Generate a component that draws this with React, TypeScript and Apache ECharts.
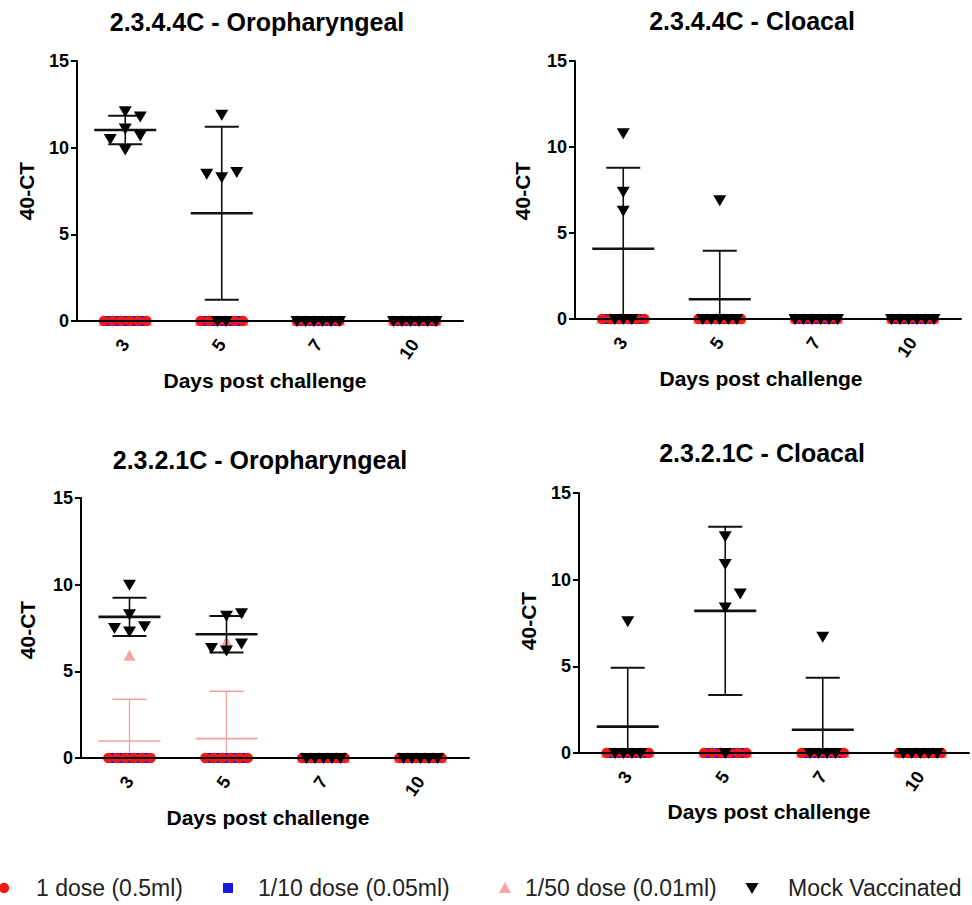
import React, { useEffect, useRef } from "react";
import * as echarts from "echarts";

// Sampling days (x categories) and y scale
const days = ["3", "5", "7", "10"];
const yMin = 0;
const yMax = 15;
const yStep = 5;

const groupNames = [
  "1 dose (0.5ml)",
  "1/10 dose (0.05ml)",
  "1/50 dose (0.01ml)",
  "Mock Vaccinated",
];

// 40-CT per bird; one row per sampling day (3, 5, 7, 10)
// 2.3.4.4C – oropharyngeal swabs
const h5OroDose1 = [
  [0, 0, 0, 0, 0, 0],
  [0, 0, 0, 0, 0, 0],
  [0, 0, 0, 0, 0, 0],
  [0, 0, 0, 0, 0, 0],
];
const h5OroDose10 = [
  [0, 0, 0, 0, 0],
  [0, 0, 0, 0, 0],
  [0, 0, 0, 0, 0],
  [0, 0, 0, 0, 0],
];
const h5OroDose50 = [
  [0, 0, 0, 0, 0, 0],
  [0, 0, 0, 0, 0, 0],
  [0, 0, 0, 0, 0, 0],
  [0, 0, 0, 0, 0, 0],
];
const h5OroMock = [
  [12.1, 11.8, 11.1, 10.7, 10.5, 9.9],
  [11.9, 8.3, 8.6, 8.5, 0, 0],
  [0, 0, 0, 0, 0, 0],
  [0, 0, 0, 0, 0, 0],
];

// 2.3.4.4C – cloacal swabs
const h5CloDose1 = [
  [0, 0, 0, 0, 0, 0],
  [0, 0, 0, 0, 0, 0],
  [0, 0, 0, 0, 0, 0],
  [0, 0, 0, 0, 0, 0],
];
const h5CloDose10 = [
  [0, 0, 0, 0, 0],
  [0, 0, 0, 0, 0],
  [0, 0, 0, 0, 0],
  [0, 0, 0, 0, 0],
];
const h5CloDose50 = [
  [0, 0, 0, 0, 0, 0],
  [0, 0, 0, 0, 0, 0],
  [0, 0, 0, 0, 0, 0],
  [0, 0, 0, 0, 0, 0],
];
const h5CloMock = [
  [10.8, 7.4, 6.3, 0, 0, 0],
  [6.9, 0, 0, 0, 0, 0],
  [0, 0, 0, 0, 0, 0],
  [0, 0, 0, 0, 0, 0],
];

// 2.3.2.1C – oropharyngeal swabs
const h5cOroDose1 = [
  [0, 0, 0, 0, 0, 0],
  [0, 0, 0, 0, 0, 0],
  [0, 0, 0, 0, 0, 0],
  [0, 0, 0, 0, 0, 0],
];
const h5cOroDose10 = [
  [0, 0, 0, 0, 0],
  [0, 0, 0, 0, 0],
  [0, 0, 0, 0, 0],
  [0, 0, 0, 0, 0],
];
const h5cOroDose50 = [
  [5.9, 0, 0, 0, 0, 0],
  [6.7, 0, 0, 0, 0, 0],
  [0, 0, 0, 0, 0, 0],
  [0, 0, 0, 0, 0, 0],
];
const h5cOroMock = [
  [10.0, 8.3, 7.3, 7.6, 7.5],
  [8.2, 8.35, 6.2, 6.6, 6.35],
  [0, 0, 0, 0, 0],
  [0, 0, 0, 0, 0],
];

// 2.3.2.1C – cloacal swabs
const h5cCloDose1 = [
  [0, 0, 0, 0, 0, 0],
  [0, 0, 0, 0, 0, 0],
  [0, 0, 0, 0, 0, 0],
  [0, 0, 0, 0, 0, 0],
];
const h5cCloDose10 = [
  [0, 0, 0, 0, 0],
  [0, 0, 0, 0, 0],
  [0, 0, 0, 0, 0],
  [0, 0, 0, 0, 0],
];
const h5cCloDose50 = [
  [0, 0, 0, 0, 0, 0],
  [0, 0, 0, 0, 0, 0],
  [0, 0, 0, 0, 0, 0],
  [0, 0, 0, 0, 0, 0],
];
const h5cCloMock = [
  [7.6, 0, 0, 0, 0],
  [12.5, 10.9, 8.4, 9.2, 0],
  [6.7, 0, 0, 0, 0],
  [0, 0, 0, 0, 0],
];

const FONT = '"Liberation Sans", Arial, Helvetica, sans-serif';

const groupStyles = [
  { color: "#ee1a1a", line: "#ee1a1a", shape: "circle" },
  { color: "#1818e0", line: "#1818e0", shape: "square" },
  { color: "#f4a5a5", line: "#f2a0a0", shape: "up" },
  { color: "#000000", line: "#111111", shape: "down" },
];
// pink underneath, then blue, red, and mock on top
const drawOrder = [2, 1, 0, 3];

const panels = [
  {
    title: "2.3.4.4C - Oropharyngeal",
    groups: [h5OroDose1, h5OroDose10, h5OroDose50, h5OroMock],
    grid: { left: 77, top: 61, width: 386, height: 260 },
    titleAt: [257, 22],
    yNameAt: [26, 191],
    xNameAt: [265, 380],
  },
  {
    title: "2.3.4.4C - Cloacal",
    groups: [h5CloDose1, h5CloDose10, h5CloDose50, h5CloMock],
    grid: { left: 575, top: 61, width: 386, height: 258 },
    titleAt: [752, 21],
    yNameAt: [522, 191],
    xNameAt: [761, 378],
  },
  {
    title: "2.3.2.1C - Oropharyngeal",
    groups: [h5cOroDose1, h5cOroDose10, h5cOroDose50, h5cOroMock],
    grid: { left: 81, top: 498, width: 388, height: 260 },
    titleAt: [260, 460],
    yNameAt: [27, 630],
    xNameAt: [268, 817],
  },
  {
    title: "2.3.2.1C - Cloacal",
    groups: [h5cCloDose1, h5cCloDose10, h5cCloDose50, h5cCloMock],
    grid: { left: 579, top: 493, width: 390, height: 260 },
    titleAt: [762, 453],
    yNameAt: [528, 621],
    xNameAt: [769, 811],
  },
];

function mean(v: number[]) {
  return v.reduce((a, b) => a + b, 0) / v.length;
}
function sd(v: number[]) {
  const m = mean(v);
  return Math.sqrt(v.reduce((a, b) => a + (b - m) * (b - m), 0) / (v.length - 1));
}

function marker(shape: string, cx: number, cy: number, color: string) {
  if (shape === "circle") {
    return { type: "circle", shape: { cx, cy, r: 5.2 }, style: { fill: color } };
  }
  if (shape === "square") {
    return { type: "rect", shape: { x: cx - 5, y: cy - 5, width: 10, height: 10 }, style: { fill: color } };
  }
  if (shape === "up") {
    return {
      type: "polygon",
      shape: { points: [[cx, cy - 6], [cx + 6, cy + 5], [cx - 6, cy + 5]] },
      style: { fill: color },
    };
  }
  return {
    type: "polygon",
    shape: { points: [[cx - 6.5, cy - 5], [cx + 6.5, cy - 5], [cx, cy + 6]] },
    style: { fill: color },
  };
}

// Scatter-dot layout: non-zero birds are nudged sideways when they would
// overlap; the birds sitting at zero are laid out as a row.
function makeRenderItem(values: number[][], g: number) {
  const st = groupStyles[g];
  return (params: any, api: any) => {
    const i = params.dataIndex;
    const vals = values[i];
    const m = mean(vals);
    const s = sd(vals);
    const base = api.coord([i, 0]);
    const cx = base[0];
    const y0 = base[1];
    const children: any[] = [];

    if (m > 0) {
      const yMean = api.coord([i, m])[1];
      const yHi = api.coord([i, m + s])[1];
      const lo = m - s;
      const yLo = lo > 0 ? api.coord([i, lo])[1] : y0;
      const lw = g === 3 ? 1.6 : 1.3;
      children.push({
        type: "line",
        shape: { x1: cx, y1: yHi, x2: cx, y2: yLo },
        style: { stroke: st.line, lineWidth: lw },
      });
      children.push({
        type: "line",
        shape: { x1: cx - 17, y1: yHi, x2: cx + 17, y2: yHi },
        style: { stroke: st.line, lineWidth: g === 3 ? 2 : 1.5 },
      });
      if (lo > 0) {
        children.push({
          type: "line",
          shape: { x1: cx - 17, y1: yLo, x2: cx + 17, y2: yLo },
          style: { stroke: st.line, lineWidth: g === 3 ? 2 : 1.5 },
        });
      }
      children.push({
        type: "line",
        shape: { x1: cx - 31, y1: yMean, x2: cx + 31, y2: yMean },
        style: { stroke: st.line, lineWidth: g === 3 ? 2.6 : 1.6 },
      });
    }

    const step = 15;
    const placed: { x: number; y: number }[] = [];
    vals.forEach((v) => {
      if (v <= 0) return;
      const py = api.coord([i, v])[1];
      for (const k of [0, 1, -1, 2, -2, 3, -3]) {
        const ox = k * step;
        if (placed.every((p) => Math.hypot(p.x - ox, p.y - py) >= step)) {
          placed.push({ x: ox, y: py });
          break;
        }
      }
    });
    placed.forEach((p) => children.push(marker(st.shape, cx + p.x, p.y, st.color)));

    const zeros = vals.filter((v) => v <= 0).length;
    for (let j = 0; j < zeros; j++) {
      const ox = (j - (zeros - 1) / 2) * 8.5;
      children.push(marker(st.shape, cx + ox, y0, st.color));
    }

    return { type: "group", children };
  };
}

function textEl(text: string, x: number, y: number, font: string, extra: any = {}) {
  return {
    type: "text",
    x,
    y,
    silent: true,
    ...extra,
    style: {
      text,
      font,
      fill: extra.fill || "#000",
      align: extra.align || "center",
      verticalAlign: "middle",
      textAlign: extra.align || "center",
      textVerticalAlign: "middle",
    },
  };
}

export default function App() {
  const ref = useRef<HTMLDivElement>(null);

  useEffect(() => {
    document.body.style.margin = "0";
    const chart = echarts.init(ref.current!, null, { renderer: "svg" });

    const grids = panels.map((p) => ({ ...p.grid, containLabel: false }));
    const xAxes = panels.map((_, p) => ({
      type: "category",
      gridIndex: p,
      data: days,
      boundaryGap: true,
      z: 5,
      axisLine: { lineStyle: { color: "#000", width: 2 } },
      axisTick: { alignWithLabel: true, length: 5, lineStyle: { color: "#000", width: 2 } },
      axisLabel: {
        rotate: 55,
        margin: 20,
        fontSize: 18,
        fontWeight: "bold",
        color: "#000",
        fontFamily: FONT,
      },
    }));
    const yAxes = panels.map((_, p) => ({
      type: "value",
      gridIndex: p,
      min: yMin,
      max: yMax,
      interval: yStep,
      z: 5,
      axisLine: { show: true, lineStyle: { color: "#000", width: 2 } },
      axisTick: { show: true, length: 6, lineStyle: { color: "#000", width: 2 } },
      splitLine: { show: false },
      axisLabel: { fontSize: 18, fontWeight: "bold", color: "#000", fontFamily: FONT, margin: 8 },
    }));

    const series: any[] = [];
    panels.forEach((panel, p) => {
      drawOrder.forEach((g) => {
        const values = panel.groups[g];
        series.push({
          type: "custom",
          name: groupNames[g],
          xAxisIndex: p,
          yAxisIndex: p,
          z: 2,
          data: days.map((_, i) => [i, mean(values[i])]),
          encode: { x: 0, y: 1 },
          renderItem: makeRenderItem(values, g),
        });
      });
    });

    const graphics: any[] = [];
    panels.forEach((panel) => {
      graphics.push(textEl(panel.title, panel.titleAt[0], panel.titleAt[1], `bold 25px ${FONT}`));
      graphics.push(
        textEl("40-CT", panel.yNameAt[0], panel.yNameAt[1], `bold 21px ${FONT}`, { rotation: Math.PI / 2 })
      );
      graphics.push(textEl("Days post challenge", panel.xNameAt[0], panel.xNameAt[1], `bold 21px ${FONT}`));
    });

    // legend row
    const legendY = 888;
    const legendMarks = [
      { g: 0, mx: 4, tx: 36 },
      { g: 1, mx: 228, tx: 258 },
      { g: 2, mx: 505, tx: 525 },
      { g: 3, mx: 752, tx: 788 },
    ];
    legendMarks.forEach(({ g, mx, tx }) => {
      const st = groupStyles[g];
      graphics.push({ ...marker(st.shape, mx, legendY, st.color), silent: true });
      graphics.push(textEl(groupNames[g], tx, legendY, `23px ${FONT}`, { align: "left", fill: "#222" }));
    });

    chart.setOption({
      animation: false,
      backgroundColor: "#ffffff",
      grid: grids,
      xAxis: xAxes,
      yAxis: yAxes,
      series,
      graphic: { elements: graphics },
    });

    return () => chart.dispose();
  }, []);

  return <div ref={ref} style={{ width: 972, height: 905 }} />;
}
